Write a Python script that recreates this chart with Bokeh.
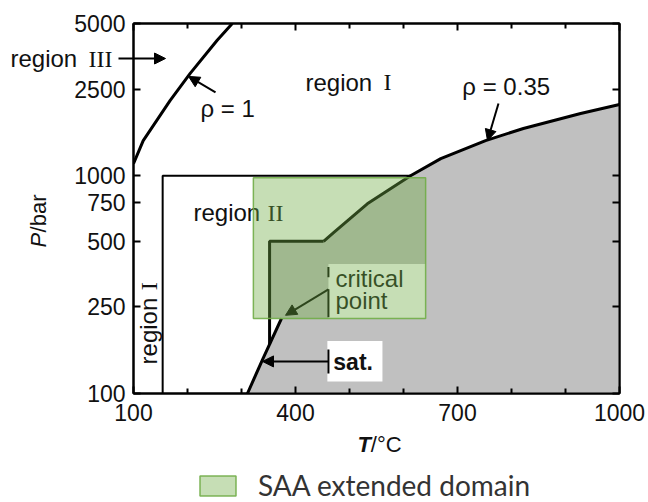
import numpy as np
from bokeh.plotting import figure
from bokeh.models import (FixedTicker, NumeralTickFormatter, LinearAxis, LogAxis,
                          Arrow, NormalHead, TeeHead, Legend, LegendItem,
                          Range1d, LogScale, GridBox)
from bokeh.core.properties import value
from bokeh.embed import file_html
from bokeh.resources import INLINE

# axis ticks
x_ticks = [100, 400, 700, 1000]
x_minor = [200, 300, 500, 600, 800, 900]
y_ticks = [100, 250, 500, 750, 1000, 2500, 5000]

# isochore rho = 1 g/cm3
rho1_T = [100, 118, 168, 205, 255, 283]
rho1_P = [1136, 1450, 2217, 2951, 4190, 5000]

# isochore rho = 0.35 g/cm3 (upper edge of region II)
rho035_T = [452, 470, 533, 613, 669, 752, 822, 928, 1000]
rho035_P = [500, 546, 743, 1000, 1198, 1450, 1647, 1931, 2125]

# liquid-vapour saturation curve up to the critical point
sat_T = [311, 340, 374]
sat_P = [100, 145, 221]

# region II lower-left corner: isotherm and 500 bar isobar
reg2_T = 352
reg2_P_top = 500
reg2_P_bottom = 168

# region I / region II separation
reg1_T = 154
reg1_P = 1000

# SAA extended domain
saa_T = [322, 641]
saa_P = [221, 980]

# page and frame geometry (pixels)
W, H = 648, 502
FL, FR, FT, FB = 133, 619, 23, 393
T_MIN, T_MAX = 100, 1000
P_MIN, P_MAX = 100, 5000

SANS = value("Liberation Sans")
SERIF = value("Liberation Serif")
FS = "23px"
TS = "24px"
INK = "#111111"

p = figure(width=W, height=H, x_range=(T_MIN, T_MAX), y_range=(P_MIN, P_MAX),
           y_axis_type="log", output_backend="svg", toolbar_location=None,
           min_border_left=FL, min_border_right=W - FR, min_border_top=FT,
           min_border_bottom=H - FB, background_fill_color="white",
           border_fill_color="white")
p.frame_align = False
p.xgrid.visible = False
p.ygrid.visible = False
p.outline_line_color = "black"
p.outline_line_width = 2


def style_axis(ax, labels=True, standoff=8):
    ax.axis_line_color = "black"
    ax.axis_line_width = 2
    ax.major_tick_in = 7
    ax.major_tick_out = 0
    ax.minor_tick_in = 5
    ax.minor_tick_out = 0
    ax.major_tick_line_width = 2
    ax.minor_tick_line_width = 2
    ax.major_label_standoff = standoff
    ax.major_label_text_font = "Liberation Sans"
    if labels:
        ax.major_label_text_font_size = FS
        ax.major_label_text_color = INK
    else:
        ax.major_label_text_font_size = "1px"
        ax.major_label_text_color = None


xt = FixedTicker(ticks=x_ticks, minor_ticks=x_minor)
yt = FixedTicker(ticks=y_ticks)
fmt = NumeralTickFormatter(format="0")

bx = p.xaxis[0]
bx.ticker = xt
bx.formatter = fmt
style_axis(bx, True, 10)

ly = p.yaxis[0]
ly.ticker = yt
ly.formatter = fmt
style_axis(ly, True, 8)

tx = LinearAxis(ticker=xt)
style_axis(tx, False, 0)
p.add_layout(tx, "above")
ry = LogAxis(ticker=yt)
style_axis(ry, False, 0)
p.add_layout(ry, "right")

# supercritical low-density domain (grey)
gray_T = sat_T + [reg2_T, reg2_T] + rho035_T + [T_MAX]
gray_P = sat_P + [sat_P[-1], reg2_P_top] + rho035_P + [P_MIN]
p.patch(gray_T, gray_P, fill_color="#c0c0c0", line_color=None)

# boundary curves
p.line(rho1_T, rho1_P, line_color="black", line_width=3)
p.line(rho035_T, rho035_P, line_color="black", line_width=3)
p.line(sat_T, sat_P, line_color="black", line_width=3)
p.line([reg2_T, reg2_T, rho035_T[0]], [reg2_P_bottom, reg2_P_top, rho035_P[0]],
       line_color="black", line_width=3)
p.line([reg1_T, reg1_T, rho035_T[3]], [P_MIN, reg1_P, reg1_P],
       line_color="black", line_width=2)

# white boxes behind the annotations
p.quad(left=[461, 459], right=[641, 561], bottom=[221, 113.6], top=[393, 174],
       fill_color="white", line_color=None)

# bracket of the critical-point pointer
p.segment(x0=[461, 461], y0=[224, 342], x1=[461, 461], y1=[301, 381],
          line_color="black", line_width=2)


def txt(fig, x, y, s, font=SANS, size=TS, style="normal", angle=0.0,
        color=INK):
    fig.text(x=[x], y=[y], text=[s], text_font=font, text_font_size=size,
             text_font_style=style, text_color=color, text_align="left",
             text_baseline="middle", angle=angle)


txt(p, 418.5, 2687, "region")
txt(p, 563, 2687, "I", font=SERIF)
txt(p, 224, 2037, "ρ = 1")
txt(p, 709, 2558, "ρ = 0.35")
txt(p, 211, 675, "region")
txt(p, 348, 675, "II", font=SERIF)
txt(p, 127.8, 136, "region", angle=np.pi / 2)
txt(p, 127.8, 298, "I", font=SERIF, angle=np.pi / 2)
txt(p, 474, 339, "critical")
txt(p, 474, 268, "point")
txt(p, 470, 139, "sat.", size="23px", style="bold")


def arrow(fig, x0, y0, x1, y1, color="black", start=None):
    fig.add_layout(Arrow(end=NormalHead(size=11, fill_color=color, line_color=color),
                         start=start, x_start=x0, y_start=y0, x_end=x1, y_end=y1,
                         line_color=color, line_width=2))


arrow(p, 251.9, 2413, 201.9, 2858)
arrow(p, 775.9, 2148, 755.6, 1450)
arrow(p, 461, 140.4, 338.9, 140.4,
      start=TeeHead(size=24, line_color="black", line_width=2))
arrow(p, 461, 301, 381.5, 228.6)

# transparent overlay on the same scales, spanning the whole page:
# carries the SAA domain, its legend and the texts around the frame
dx = (T_MAX - T_MIN) / (FR - FL)
dl = (np.log10(P_MAX) - np.log10(P_MIN)) / (FB - FT)
ov_x = Range1d(T_MIN - FL * dx, T_MAX + (W - FR) * dx)
ov_y = Range1d(10 ** (np.log10(P_MIN) - (H - FB) * dl),
               10 ** (np.log10(P_MAX) + FT * dl))
ov = figure(width=W, height=H, x_range=ov_x, y_range=ov_y, x_axis_type=None,
            y_axis_type=None, output_backend="svg", toolbar_location=None,
            min_border_left=0, min_border_right=0, min_border_top=0,
            min_border_bottom=0, title=None, background_fill_color=None,
            border_fill_color=None, outline_line_color=None)
ov.frame_align = False
ov.y_scale = LogScale()

saa = ov.quad(left=[saa_T[0]], right=[saa_T[1]], bottom=[saa_P[0]], top=[saa_P[1]],
              fill_color="#70ad47", fill_alpha=0.4,
              line_color="#70ad47", line_alpha=0.9, line_width=1.5)

txt(ov, -127.8, 3453, "region")
txt(ov, 16.7, 3453, "III", font=SERIF)
arrow(ov, 72.2, 3453, 159.3, 3453)
txt(ov, 514.8, 58.3, "T", size="22px", style="bold italic")
txt(ov, 539.5, 58.3, "/°C", size="22px")
txt(ov, -75.9, 468, "P", size="22px", style="italic", angle=np.pi / 2)
txt(ov, -75.9, 549, "/bar", size="22px", angle=np.pi / 2)

legend = Legend(items=[LegendItem(label="SAA extended domain", renderers=[saa])],
                location=(195, 0), orientation="horizontal",
                glyph_width=45, glyph_height=25, label_standoff=18,
                label_text_font="Lato", label_text_font_size="28px",
                label_text_color="#333333", padding=0, margin=0,
                border_line_alpha=0, background_fill_alpha=0)
ov.add_layout(legend)

page = GridBox(children=[(p, 0, 0), (ov, 0, 0)], spacing=0)

open("out.html", "w").write(file_html(page, INLINE))
